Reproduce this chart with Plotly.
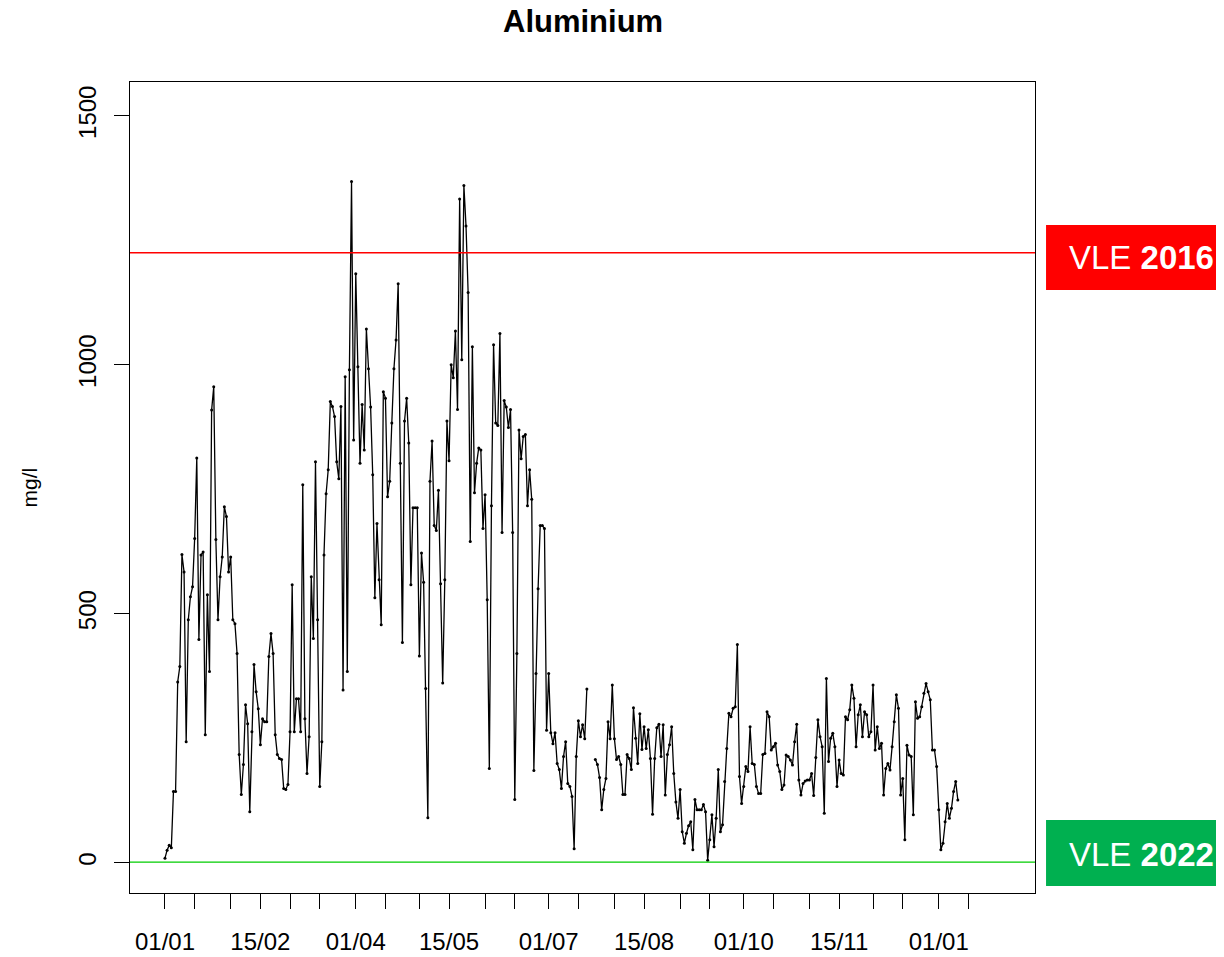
import plotly.graph_objects as go
import pandas as pd
import numpy as np

# ---------------- data ----------------
start_date = "2021-01-01"
nan = float("nan")

alu_jan_feb = [9, 25, 35, 30, 143, 143, 363, 394, 619, 584, 243, 488, 534, 554, 651, 813,
               448, 618, 624, 257, 538, 384, 909, 956, 649, 488, 574, 614, 715, 695, 584, 614,
               488, 480, 420, 217, 137, 197, 317, 279, 102, 263, 398, 343]
alu_feb_mar = [309, 237, 289, 283, 283, 414, 460, 420, 257, 217, 209, 207, 149, 147, 157, 263,
               558, 263, 329, 329, 263, 759, 289, 179, 253, 574, 450, 805, 488, 153, 243, 618,
               741, 789, 926, 916, 896, 805, 771, 916, 347, 976, 384, 990, 1368, 849]
alu_apr_may = [1183, 996, 802, 920, 829, 1072, 992, 915, 779, 532, 681, 568, 478, 946, 933, 735,
               766, 883, 992, 1050, 1163, 802, 442, 887, 933, 843, 558, 713, 713, 713, 415, 622,
               563, 350, 90, 766, 847, 677, 667, 748, 560, 361, 568, 887, 807, 1000, 974, 1068]
alu_may_jul = [910, 1333, 1010, 1360, 1279, 1145, 645, 1036, 743, 802, 833, 829, 671, 739, 528, 189,
               717, 1040, 883, 878, 1063, 663, 928, 915, 874, 910, 663, 127, 420, 869, 811, 856,
               860, 717, 789, 730, 185, 380, 550, 677, 677, 671, 266, 380, 261, 239, 261]
alu_jul_aug = [199, 187, 149, 213, 243, 159, 153, 133, 28, 213, 285, 253, 277, 249, 349, nan,
               nan, nan, 207, 197, 171, 106, 147, 169, 283, 249, 357, 249, 207, 213, 197, 137,
               137, 217, 209, 187, 311, 250, 199, 299, 227, 273, 229]
alu_aug_oct = [267, 209, 97, 209, 271, 278, 213, 277, 136, 217, 237, 273, 179, 122, 89, 147,
               62, 39, 59, 74, 82, 26, 127, 106, 106, 106, 117, 102, 5, 46, 96, 32,
               89, 187, 62, 76, 163, 229, 300, 293, 310, 313, 438, 173, 119, 153, 193, 183,
               273, 199, 197]
alu_oct_nov = [153, 139, 139, 217, 219, 303, 293, 226, 233, 240, 196, 183, 147, 156, 216, 213,
               206, 196, 243, 278, 166, 136, 159, 164, 166, 166, 179, 135, 211, 287, 253, 233,
               99, 370, 203, 250, 260, 233, 153, 206, 179, 176, 293, 287, 307, 357, 330]
alu_nov_jan = [233, 297, 317, 253, 303, 297, 253, 263, 357, 226, 273, 229, 240, 136, 189, 199,
               186, 233, 283, 337, 310, 136, 169, 46, 236, 216, 213, 96, 323, 290, 293, 313,
               340, 360, 343, 327, 226, 226, 193, 106, 26, 39, 82, 119, 89, 109, 143, 163, 126]

aluminium = (alu_jan_feb + alu_feb_mar + alu_apr_may + alu_may_jul +
             alu_jul_aug + alu_aug_oct + alu_oct_nov + alu_nov_jan)

vle_2016 = 1225
vle_2022 = 1
vle_labels = ["2016", "2022"]

y_ticks = [0, 500, 1000, 1500]
tick_days = [1, 15]

# ---------------- build ----------------
dates = pd.date_range(start_date, periods=len(aluminium), freq="D")
t0 = pd.Timestamp(start_date)

tick_dates = []
for m in range(13):
    for d in tick_days:
        ts = (t0 + pd.DateOffset(months=m)).replace(day=d)
        tick_dates.append(ts)
tick_dates = sorted(set(tick_dates))
tick_text = [ts.strftime("%d/%m") if i % 3 == 0 else "" for i, ts in enumerate(tick_dates)]

FONT = "Liberation Sans, Arial, Helvetica, sans-serif"

fig = go.Figure()
fig.add_trace(go.Scatter(
    x=dates, y=aluminium, mode="lines+markers",
    line=dict(color="black", width=1.3),
    marker=dict(color="black", size=3),
    connectgaps=False, showlegend=False, hoverinfo="x+y"))

x_lo = t0 - pd.Timedelta(days=16.5)
x_hi = t0 + pd.Timedelta(days=410.4)

# page body has an 8px margin: compensate in the figure margins
fig.update_layout(
    width=1224, height=957,
    margin=dict(l=122, r=197, t=74, b=72, autoexpand=False),
    paper_bgcolor="white", plot_bgcolor="white",
    font=dict(family=FONT, color="black"),
    xaxis=dict(range=[x_lo, x_hi], tickmode="array", tickvals=tick_dates, ticktext=tick_text,
               ticks="outside", ticklen=15, tickwidth=1, tickcolor="black",
               showline=True, linecolor="black", linewidth=1, mirror=True,
               showgrid=False, zeroline=False, tickfont=dict(size=24),
               ticklabelstandoff=12, automargin=False),
    yaxis=dict(range=[-61, 1568], tickmode="array", tickvals=y_ticks,
               ticks="outside", ticklen=15, tickwidth=1, tickcolor="black",
               showline=True, linecolor="black", linewidth=1, mirror=True,
               showgrid=False, zeroline=False, tickfont=dict(size=24), tickangle=-90,
               ticklabelstandoff=8, automargin=False),
)

# reference lines
fig.add_shape(type="line", xref="paper", x0=0, x1=1, yref="y", y0=vle_2016, y1=vle_2016,
              line=dict(color="#FF0000", width=1.3))
fig.add_shape(type="line", xref="paper", x0=0, x1=1, yref="y", y0=vle_2022, y1=vle_2022,
              line=dict(color="#00CD00", width=1.3))

# label boxes
fig.add_shape(type="rect", xref="paper", yref="paper", x0=1.0122, x1=1.25, y0=0.7435, y1=0.8237,
              fillcolor="#FF0000", line=dict(width=0), layer="above")
fig.add_shape(type="rect", xref="paper", yref="paper", x0=1.0122, x1=1.25, y0=0.0086, y1=0.09,
              fillcolor="#00B050", line=dict(width=0), layer="above")
fig.add_annotation(xref="paper", yref="paper", x=1.1182, y=0.783, showarrow=False,
                   text="VLE <b>" + vle_labels[0] + "</b>", font=dict(size=33, color="white"),
                   xanchor="center", yanchor="middle")
fig.add_annotation(xref="paper", yref="paper", x=1.1182, y=0.048, showarrow=False,
                   text="VLE <b>" + vle_labels[1] + "</b>", font=dict(size=33, color="white"),
                   xanchor="center", yanchor="middle")

# title and y label
fig.add_annotation(xref="paper", yref="paper", x=0.5, y=(893 - 21) / 811, showarrow=False,
                   text="<b>Aluminium</b>", font=dict(size=31), xanchor="center", yanchor="middle")
fig.add_annotation(xref="paper", yref="paper", x=(29 - 130) / 905, y=0.5, showarrow=False,
                   text="mg/l", textangle=-90, font=dict(size=21), xanchor="center", yanchor="middle")

fig.write_html("out.html")
